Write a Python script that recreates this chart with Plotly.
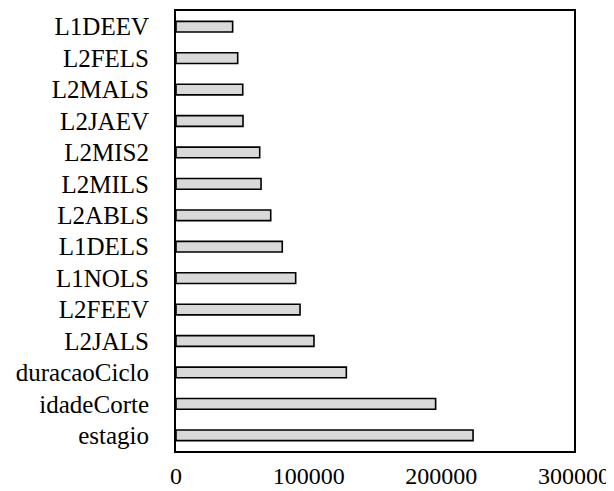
import plotly.graph_objects as go

categories = ["estagio", "idadeCorte", "duracaoCiclo", "L2JALS", "L2FEEV", "L1NOLS",
              "L1DELS", "L2ABLS", "L2MILS", "L2MIS2", "L2JAEV", "L2MALS", "L2FELS", "L1DEEV"]
values = [223900, 195700, 128400, 104000, 93500, 90200,
          80100, 71400, 64100, 63100, 50500, 50300, 46500, 42700]
x_ticks = [0, 100000, 200000, 300000]

fig = go.Figure(go.Bar(
    y=categories, x=values, orientation="h",
    width=0.34,
    marker=dict(color="#d9d9d9", line=dict(color="black", width=1.6)),
))

font = dict(family="Liberation Serif", size=25, color="black")

# page body has an 8px margin, so the figure is sized to fit the 614x491 window
fig.update_layout(
    width=606, height=483,
    margin=dict(l=168, r=40, t=3, b=40),
    paper_bgcolor="white", plot_bgcolor="white",
    font=font, showlegend=False,
    xaxis=dict(range=[0, 300000], tickvals=x_ticks, ticktext=[str(v) for v in x_ticks],
               tickfont=dict(size=24),
               showgrid=False, zeroline=False, showline=True, linecolor="black",
               linewidth=2, mirror=True, ticks="", ticklabelstandoff=2, automargin=False),
    yaxis=dict(categoryorder="array", categoryarray=categories, range=[-0.5, 13.5],
               showgrid=False, zeroline=False, showline=True, linecolor="black",
               linewidth=2, mirror=True, ticks="", ticklabelstandoff=20, automargin=False),
)

fig.write_html("out.html")
